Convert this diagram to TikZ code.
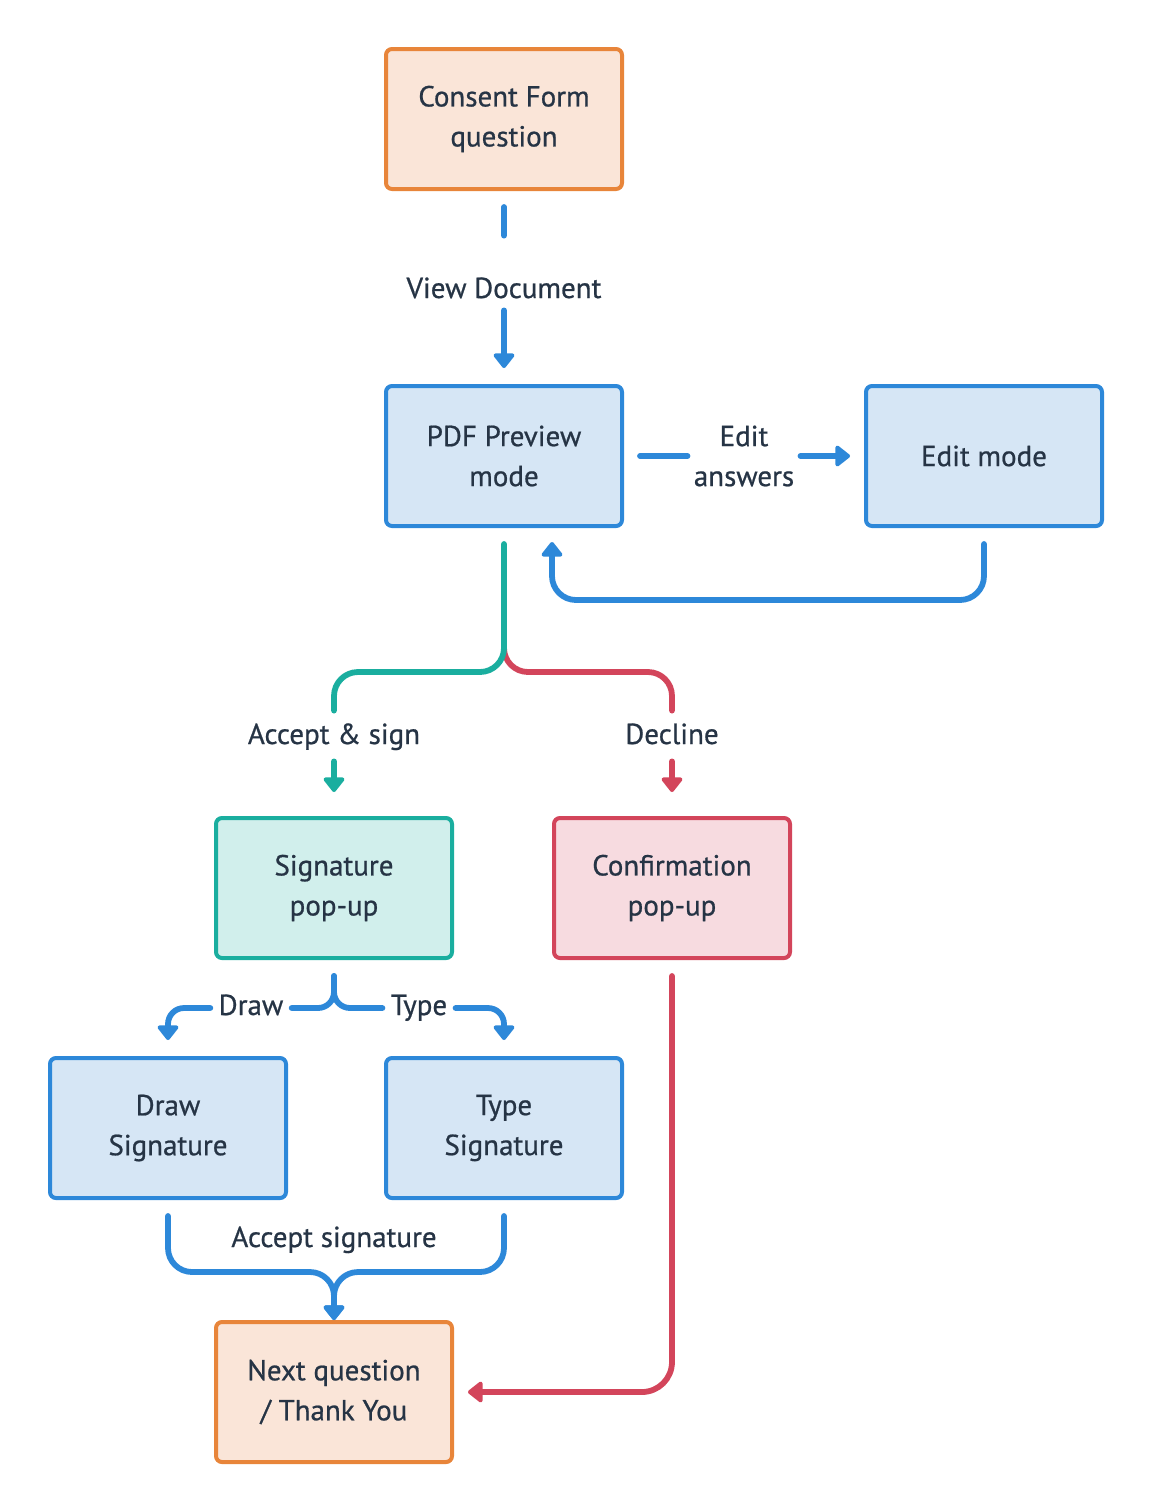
\documentclass[tikz,border=0pt]{standalone}
\usepackage{fontspec}
\setmainfont{PT Sans}
\font\diagraw="PT Sans:embolden=0.7" at 14.5pt
\newcommand{\diagfont}{\diagraw\baselineskip=20pt\relax}
\usetikzlibrary{arrows.meta}
\definecolor{ink}{HTML}{263445}
\definecolor{blueline}{HTML}{2D88D9}
\definecolor{bluefill}{HTML}{D6E6F5}
\definecolor{orangeline}{HTML}{E8853A}
\definecolor{orangefill}{HTML}{FAE5D8}
\definecolor{tealline}{HTML}{1AAE9F}
\definecolor{tealfill}{HTML}{D1EFEC}
\definecolor{redline}{HTML}{D3455B}
\definecolor{redfill}{HTML}{F7DBE0}
\tikzset{
  box/.style={draw, line width=2pt, rounded corners=3pt, minimum width=118pt,
    minimum height=70pt, align=center, text=ink, font=\diagfont},
  bluebox/.style={box, draw=blueline, fill=bluefill},
  orangebox/.style={box, draw=orangeline, fill=orangefill},
  tealbox/.style={box, draw=tealline, fill=tealfill},
  redbox/.style={box, draw=redline, fill=redfill},
  conn/.style={line width=2.9pt, line cap=round, line join=round,
    -{Triangle[width=12pt,length=8pt,round]}},
  plain/.style={line width=2.9pt, line cap=round, line join=round},
  lbl/.style={text=ink, align=center, inner sep=0pt,
    font=\diagfont, text height=10pt, text depth=3pt},
  multilbl/.style={text=ink, align=center, inner xsep=3pt, inner ysep=0pt,
    font=\diagfont}
}
\begin{document}
\begin{tikzpicture}[x=0.5pt, y=-0.5pt]
  \useasboundingbox (0,0) rectangle (1152,1512);

  % boxes
  \node[orangebox] (cf)   at (504,119)  {Consent Form\\question};
  \node[bluebox]   (pdf)  at (504,456)  {PDF Preview\\mode};
  \node[bluebox]   (edit) at (984,456)  {Edit mode};
  \node[tealbox]   (sig)  at (334,888)  {Signature\\pop-up};
  \node[redbox]    (conf) at (672,888)  {Confirmation\\pop-up};
  \node[bluebox]   (dsig) at (168,1128) {Draw\\Signature};
  \node[bluebox]   (tsig) at (504,1128) {Type\\Signature};
  \node[orangebox] (next) at (334,1392) {Next question\\/ Thank You};

  % connector labels
  \node[lbl, anchor=base] (vd) at (504,298) {View Document};
  \node[multilbl] (ea) at (744,456) {Edit\\answers};
  \node[lbl]  (acc)  at (334,737)  {Accept \& sign};
  \node[lbl]  (dec)  at (672,737)  {Decline};
  \node[lbl, inner xsep=4pt] (drawl) at (251,1008) {Draw};
  \node[lbl, inner xsep=4pt] (typel) at (419,1008) {Type};
  \node[lbl]  (accs) at (334,1240) {Accept signature};

  % junctions
  \coordinate (split)  at (504,672);
  \coordinate (split2) at (334,1008);
  \coordinate (merge)  at (334,1272);

  % consent -> preview
  \draw[plain, draw=blueline] ([yshift=-8pt]cf.south) -- ([yshift=21pt]vd.north);
  \draw[conn, draw=blueline] ([yshift=-3pt]vd.south) -- ([yshift=8pt]pdf.north);

  % preview <-> edit
  \draw[plain, draw=blueline] ([xshift=8pt]pdf.east) -- (ea.west);
  \draw[conn, draw=blueline] (ea.east) -- ([xshift=-7pt]edit.west);
  \draw[conn, draw=blueline, rounded corners=12pt]
    ([yshift=-8pt]edit.south) -- ++(0,56) -| ([xshift=24pt,yshift=-7pt]pdf.south);

  % accept / decline split
  \draw[plain, draw=redline, rounded corners=12pt]
    ([yshift=12pt]split) -- (split) -| ([yshift=6.5pt]dec.north);
  \draw[plain, draw=tealline, rounded corners=12pt]
    ([yshift=-8pt]pdf.south) -- (split) -| ([yshift=6.5pt]acc.north);
  \draw[conn, draw=tealline] ([yshift=-5.5pt]acc.south) -- ([yshift=12pt]sig.north);
  \draw[conn, draw=redline] ([yshift=-5.5pt]dec.south) -- ([yshift=12pt]conf.north);

  % draw / type split
  \draw[plain, draw=blueline, rounded corners=8pt]
    ([yshift=-8pt]sig.south) -- (split2) -- (drawl.east);
  \draw[plain, draw=blueline, rounded corners=8pt]
    ([yshift=-8pt]sig.south) -- (split2) -- (typel.west);
  \draw[conn, draw=blueline, rounded corners=8pt]
    (drawl.west) -| ([yshift=8pt]dsig.north);
  \draw[conn, draw=blueline, rounded corners=8pt]
    (typel.east) -| ([yshift=8pt]tsig.north);

  % merge into next question
  \draw[conn, draw=blueline, rounded corners=12pt]
    ([yshift=-8pt]dsig.south) |- (merge) -- (next.north);
  \draw[conn, draw=blueline, rounded corners=12pt]
    ([yshift=-8pt]tsig.south) |- (merge) -- (next.north);

  % decline -> next question
  \draw[conn, draw=redline, rounded corners=15pt]
    ([yshift=-8pt]conf.south) |- ([xshift=7pt]next.east);
\end{tikzpicture}
\end{document}
